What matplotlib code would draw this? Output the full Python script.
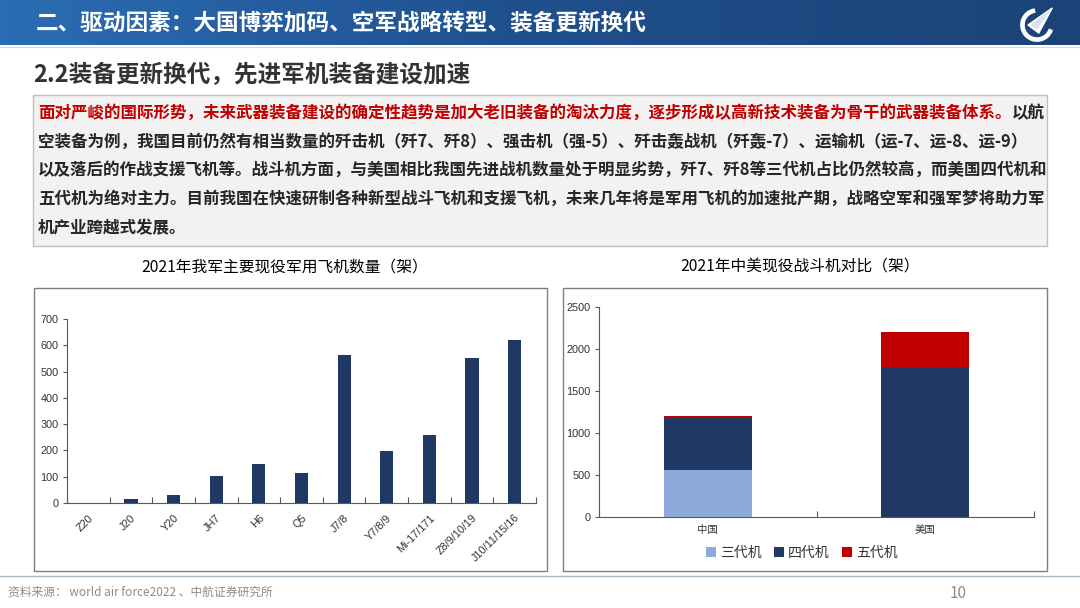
import numpy as np
import matplotlib
matplotlib.use("Agg")
import matplotlib.pyplot as plt
from matplotlib.patches import Rectangle, Polygon, Wedge
from matplotlib.colors import LinearSegmentedColormap

plt.rcParams['font.family'] = ['Noto Sans CJK SC', 'DejaVu Sans']

# ---------------- data ----------------
left_title = "2021年我军主要现役军用飞机数量（架）"
aircraft = ["Z20", "J20", "Y20", "JH7", "H6", "Q5", "J7/8", "Y7/8/9",
            "Mi-17/171", "Z8/9/10/19", "J10/11/15/16"]
aircraft_counts = [0, 16, 29, 104, 149, 116, 562, 196, 257, 553, 620]
left_yticks = [0, 100, 200, 300, 400, 500, 600, 700]

right_title = "2021年中美现役战斗机对比（架）"
countries = ["中国", "美国"]
gen3 = [555, 0]
gen4 = [628, 1776]
gen5 = [17, 424]
gen_labels = ["三代机", "四代机", "五代机"]
right_yticks = [0, 500, 1000, 1500, 2000, 2500]

header_title = "二、驱动因素：大国博弈加码、空军战略转型、装备更新换代"
sub_title = "2.2装备更新换代，先进军机装备建设加速"
para_red = "面对严峻的国际形势，未来武器装备建设的确定性趋势是加大老旧装备的淘汰力度，逐步形成以高新技术装备为骨干的武器装备体系。"
para_lines = [
    "以航",
    "空装备为例，我国目前仍然有相当数量的歼击机（歼7、歼8）、强击机（强-5）、歼击轰战机（歼轰-7）、运输机（运-7、运-8、运-9）",
    "以及落后的作战支援飞机等。战斗机方面，与美国相比我国先进战机数量处于明显劣势，歼7、歼8等三代机占比仍然较高，而美国四代机和",
    "五代机为绝对主力。目前我国在快速研制各种新型战斗飞机和支援飞机，未来几年将是军用飞机的加速批产期，战略空军和强军梦将助力军",
    "机产业跨越式发展。",
]
source_text = "资料来源： world air force2022 、中航证券研究所"
page_no = "10"

# ---------------- colours ----------------
NAVY = "#1f3864"
LIGHT = "#8eaadb"
RED = "#c00000"
TXT = "#262626"

W, H = 1080, 608
fig = plt.figure(figsize=(W / 100, H / 100), dpi=100)
fig.patch.set_facecolor("white")


def fx(x):
    return x / W


def fy(y):
    return 1 - y / H


def rect_px(x0, y0, x1, y1):
    return [fx(x0), fy(y1), (x1 - x0) / W, (y1 - y0) / H]


# header gradient
hax = fig.add_axes(rect_px(0, 0, W, 45))
cmap = LinearSegmentedColormap.from_list("hdr", ["#2b6db4", "#1f4f8c", "#1b4377"])
hax.imshow(np.linspace(0, 1, 256)[None, :], aspect="auto", cmap=cmap,
           extent=[0, 1, 0, 1])
hax.set_xlim(0, 1)
hax.set_ylim(0, 1)
hax.axis("off")
fig.text(fx(36), fy(23), header_title, color="white", fontsize=16.3,
         fontweight="bold", va="center", ha="left")

# logo (simple emblem)
lax = fig.add_axes(rect_px(1019, 7, 1055, 43))
lax.set_xlim(-1, 1)
lax.set_ylim(-1, 1)
lax.set_aspect("equal")
lax.axis("off")
lax.add_patch(Wedge((0, 0), 0.9, 100, 340, width=0.18, color="white"))
lax.add_patch(Polygon([[-0.5, 0.0], [0.85, 0.95], [0.1, -0.45]],
                      closed=True, color="white"))
lax.add_patch(Polygon([[-0.3, 0.0], [0.7, 0.8], [0.0, -0.2]],
                      closed=True, color="#d9e2f0"))

# thin line under header
fig.add_artist(plt.Line2D([0, 1], [fy(47), fy(47)], color="#d9d9d9", lw=0.8))

# subtitle
fig.text(fx(33), fy(75), sub_title, color="#333333", fontsize=17,
         fontweight="bold", va="center", ha="left")

# text box
fig.add_artist(Rectangle((fx(33), fy(246)), (1047 - 33) / W, (246 - 95) / H,
                         transform=fig.transFigure, facecolor="#f2f2f2",
                         edgecolor="#bfbfbf", lw=1.0))
line_y = [113, 142, 170, 199, 228]
FS = 11.9
t_red = fig.text(fx(38), fy(line_y[0]), para_red, color=RED, fontsize=FS,
                 fontweight="bold", va="center", ha="left")
fig.canvas.draw()
bb = t_red.get_window_extent(fig.canvas.get_renderer())
fig.text(bb.x1 / W, fy(line_y[0]), para_lines[0], color=TXT, fontsize=FS,
         fontweight="bold", va="center", ha="left")
for yy, s in zip(line_y[1:], para_lines[1:]):
    fig.text(fx(38), fy(yy), s, color=TXT, fontsize=FS, fontweight="bold",
             va="center", ha="left")

# chart titles
fig.text(fx(285), fy(267), left_title, fontsize=11.3, color="#000000",
         ha="center", va="center")
fig.text(fx(800), fy(267), right_title, fontsize=11.3, color="#000000",
         ha="center", va="center")

# chart frames
for (x0, x1) in [(34, 547), (563, 1047)]:
    fig.add_artist(Rectangle((fx(x0), fy(571)), (x1 - x0) / W, (571 - 288) / H,
                             transform=fig.transFigure, facecolor="none",
                             edgecolor="#7f7f7f", lw=1.0))

LAT = ['Liberation Sans', 'DejaVu Sans']

# ---------------- left chart ----------------
ax1 = fig.add_axes(rect_px(67, 319, 536, 503))
x = np.arange(len(aircraft))
ax1.bar(x, aircraft_counts, width=0.31, color=NAVY, zorder=3)
ax1.set_xlim(-0.5, len(aircraft) - 0.5)
ax1.set_ylim(0, 700)
ax1.set_yticks(left_yticks)
ax1.set_yticklabels([str(v) for v in left_yticks], family=LAT, fontsize=7.8,
                    color="#333333")
ax1.set_xticks(x)
ax1.set_xticklabels(aircraft, family=LAT, fontsize=7.8, color="#333333",
                    rotation=45, ha="right", rotation_mode="anchor")
ax1.set_xticks(np.arange(-0.5, len(aircraft), 1.0), minor=True)
ax1.tick_params(axis="x", which="major", length=0, pad=7)
ax1.tick_params(axis="x", which="minor", length=4, direction="in",
                color="#595959", width=0.8)
ax1.tick_params(axis="y", length=3, direction="out", color="#595959",
                width=0.8, pad=3)
for s in ["top", "right"]:
    ax1.spines[s].set_visible(False)
for s in ["left", "bottom"]:
    ax1.spines[s].set_color("#595959")
    ax1.spines[s].set_linewidth(0.8)
ax1.patch.set_alpha(0)

# ---------------- right chart ----------------
ax2 = fig.add_axes(rect_px(599, 307, 1034, 517))
xc = np.arange(len(countries))
bw = 0.405
b3 = ax2.bar(xc, gen3, width=bw, color=LIGHT, zorder=3, label=gen_labels[0])
b4 = ax2.bar(xc, gen4, width=bw, bottom=gen3, color=NAVY, zorder=3,
             label=gen_labels[1])
bottom5 = [a + b for a, b in zip(gen3, gen4)]
b5 = ax2.bar(xc, gen5, width=bw, bottom=bottom5, color=RED, zorder=3,
             label=gen_labels[2])
ax2.set_xlim(-0.5, len(countries) - 0.5)
ax2.set_ylim(0, 2500)
ax2.set_yticks(right_yticks)
ax2.set_yticklabels([str(v) for v in right_yticks], family=LAT, fontsize=7.8,
                    color="#333333")
ax2.set_xticks(xc)
ax2.set_xticklabels(countries, fontsize=7.5, color="#333333")
ax2.set_xticks(np.arange(-0.5, len(countries), 1.0), minor=True)
ax2.tick_params(axis="x", which="major", length=0, pad=6)
ax2.tick_params(axis="x", which="minor", length=4, direction="in",
                color="#595959", width=0.8)
ax2.tick_params(axis="y", length=3, direction="out", color="#595959",
                width=0.8, pad=3)
for s in ["top", "right"]:
    ax2.spines[s].set_visible(False)
for s in ["left", "bottom"]:
    ax2.spines[s].set_color("#595959")
    ax2.spines[s].set_linewidth(0.8)
ax2.patch.set_alpha(0)
leg = fig.legend(handles=[b3, b4, b5], labels=gen_labels, loc="center",
                 bbox_to_anchor=(fx(802), fy(553)), ncol=3, frameon=False,
                 fontsize=10, handlelength=0.7, handleheight=0.7,
                 handletextpad=0.3, columnspacing=0.9)
for t in leg.get_texts():
    t.set_color("#333333")

# ---------------- footer ----------------
fig.add_artist(plt.Line2D([0, 1], [fy(576), fy(576)], color="#a6b4c4", lw=1.0))
fig.text(fx(8), fy(592), source_text, fontsize=8.5, color="#8c8c8c",
         ha="left", va="center")
fig.text(fx(958), fy(593), page_no, fontsize=11, color="#8c8c8c",
         ha="center", va="center")

fig.savefig("out.png", dpi=100)
